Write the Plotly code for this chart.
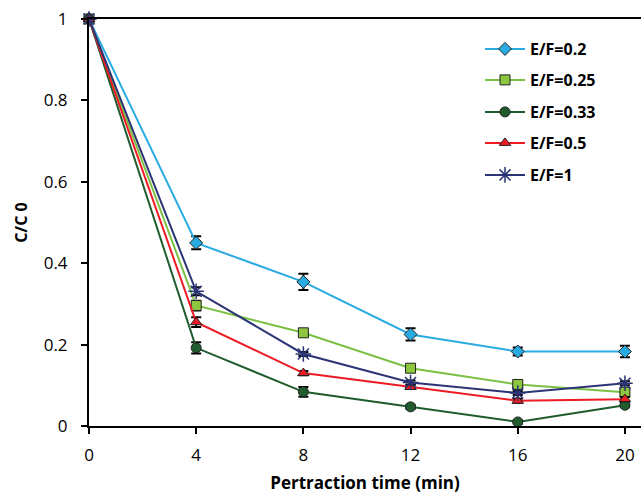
import plotly.graph_objects as go

time_min = [0, 4, 8, 12, 16, 20]
series_names = ["E/F=0.2", "E/F=0.25", "E/F=0.33", "E/F=0.5", "E/F=1"]
ef_02 = [1.0, 0.450, 0.354, 0.225, 0.183, 0.183]
ef_025 = [1.0, 0.296, 0.229, 0.142, 0.102, 0.083]
ef_033 = [1.0, 0.192, 0.084, 0.047, 0.010, 0.051]
ef_05 = [1.0, 0.255, 0.130, 0.096, 0.062, 0.066]
ef_1 = [1.0, 0.331, 0.177, 0.107, 0.081, 0.105]
err_02 = [0, 0.016, 0.020, 0.015, 0.010, 0.014]
err_025 = [0, 0.012, 0.006, 0.005, 0.005, 0.005]
err_033 = [0, 0.014, 0.012, 0.005, 0.004, 0.005]
err_05 = [0, 0.012, 0.005, 0.005, 0.005, 0.005]
err_1 = [0, 0.010, 0.005, 0.005, 0.005, 0.005]
x_ticks = [0, 4, 8, 12, 16, 20]
y_ticks = [0, 0.2, 0.4, 0.6, 0.8, 1]
y_tick_labels = ["0", "0.2", "0.4", "0.6", "0.8", "1"]

styles = [
    dict(line="#29abe2", fill="#29abe2", symbol="diamond", size=10, lw=1),
    dict(line="#7ac143", fill="#8dc63f", symbol="square", size=10, lw=1),
    dict(line="#1f5c2e", fill="#1f5c2e", symbol="circle", size=10, lw=1),
    dict(line="#ed1c24", fill="#ed1c24", symbol="triangle-up", size=10, lw=1),
    dict(line="#2b3475", fill="#2b3475", symbol="asterisk-open", size=13, lw=1.5),
]
values = [ef_02, ef_025, ef_033, ef_05, ef_1]
errors = [err_02, err_025, err_033, err_05, err_1]
legend_ids = ["legend", "legend2", "legend3", "legend4", "legend5"]

# plot-area geometry (pixels) used to place legend rows
L, R, T, B = 89, 0, 19, 68
W, H = 641, 494
pw, ph = W - L - R, H - T - B
legend_rows_px = [49, 80, 112, 143, 175]
legend_left_px = 480

fig = go.Figure()
for name, vals, errs, st, lid in zip(series_names, values, errors, styles, legend_ids):
    outline = st["line"] if st["symbol"] == "asterisk-open" else "#222222"
    fig.add_trace(go.Scatter(
        x=time_min, y=vals, name=name, mode="lines+markers",
        line=dict(color=st["line"], width=2),
        marker=dict(symbol=st["symbol"], size=st["size"], color=st["fill"],
                    line=dict(color=outline, width=st["lw"])),
        error_y=dict(type="data", array=errs, color="black", thickness=2, width=5),
        cliponaxis=False, legend=lid,
    ))

legend_common = dict(xanchor="left", yanchor="middle",
                     font=dict(size=16, family="Open Sans, sans-serif", weight="bold", color="black"),
                     bgcolor="rgba(0,0,0,0)", borderwidth=0, itemwidth=40)
legend_layout = {}
for lid, ypx in zip(legend_ids, legend_rows_px):
    legend_layout[lid] = dict(legend_common,
                              x=(legend_left_px - L) / pw,
                              y=(H - B - ypx) / ph)

fig.update_layout(
    width=W, height=H,
    margin=dict(l=L, r=R, t=T, b=B, autoexpand=False),
    paper_bgcolor="white", plot_bgcolor="white",
    font=dict(family="Open Sans, Noto Sans, sans-serif", color="black"),
    showlegend=True,
    xaxis=dict(range=[0, 20.6], tickvals=x_ticks, showgrid=False, zeroline=False,
               showline=True, linecolor="black", linewidth=2, mirror=True,
               ticks="outside", ticklen=6, tickwidth=1.5, tickcolor="black",
               tickfont=dict(size=17), ticklabelstandoff=7,
               title=dict(text="Pertraction time (min)", font=dict(size=17, weight="bold"), standoff=12)),
    yaxis=dict(range=[0, 1], tickvals=y_ticks, ticktext=y_tick_labels, showgrid=False,
               zeroline=False, showline=True, linecolor="black", linewidth=2,
               ticks="outside", ticklen=6, tickwidth=1.5, tickcolor="black",
               tickfont=dict(size=17), ticklabelstandoff=10,
               title=dict(text="C/C 0", font=dict(size=16, weight="bold"), standoff=12)),
    **legend_layout,
)

fig.write_html("out.html", config={"displayModeBar": False},
               post_script="document.body.style.margin='0';")
